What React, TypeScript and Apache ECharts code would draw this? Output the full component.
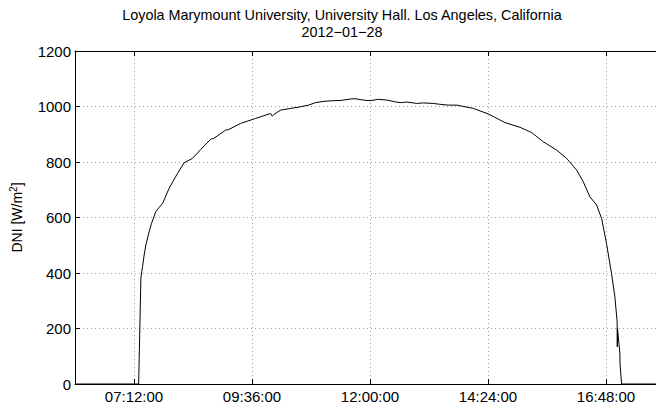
import React, { useEffect, useRef } from "react";
import * as echarts from "echarts";

const titleLines = [
  "Loyola Marymount University, University Hall. Los Angeles, California",
  "2012\u221201\u221228",
];
const yAxisName = "DNI [W/m{sup|2}]";
const xTickTimes = ["07:12:00", "09:36:00", "12:00:00", "14:24:00", "16:48:00"];
const yTicks = [0, 200, 400, 600, 800, 1000, 1200];
const xRange = ["06:00:00", "18:00:00"];

const times = [
  "06:00:00", "07:17:40", "07:20:24", "07:22:24", "07:24:24", "07:26:30", "07:30:30",
  "07:33:24", "07:38:36", "07:42:42", "07:46:48", "07:54:48", "08:05:06", "08:13:06",
  "08:23:18", "08:33:24", "08:45:36", "08:49:18", "09:03:54", "09:07:30", "09:22:06",
  "09:40:24", "09:58:42", "10:00:42", "10:03:00", "10:10:54", "10:23:00", "10:35:12",
  "10:45:00", "10:53:30", "11:05:00", "11:15:24", "11:25:00", "11:36:06", "11:42:00",
  "11:48:00", "11:55:00", "12:00:30", "12:10:00", "12:21:12", "12:30:00", "12:37:00",
  "12:45:00", "12:57:42", "13:05:00", "13:17:12", "13:25:00", "13:35:24", "13:46:00",
  "14:06:12", "14:24:30", "14:44:48", "15:03:06", "15:17:18", "15:31:30", "15:47:48",
  "16:00:00", "16:12:12", "16:20:12", "16:28:18", "16:36:30", "16:42:36", "16:48:36",
  "16:54:42", "16:58:48", "17:01:36", "17:01:48", "17:02:00", "17:04:54", "17:05:06",
  "17:07:00", "18:00:00",
];
const dni = [
  0, 0, 381, 423, 465, 501, 549,
  579, 621, 637, 650, 705, 759, 797,
  813, 845, 882, 885, 915, 917, 939,
  957, 975, 965, 972, 987, 993, 999,
  1005, 1014, 1019, 1021, 1022, 1027, 1028,
  1025, 1022, 1021, 1026, 1023, 1017, 1014,
  1016, 1011, 1013, 1011, 1008, 1005, 1005,
  993, 973, 942, 925, 906, 873, 843,
  813, 771, 729, 675, 645, 597, 507,
  399, 315, 224, 134, 200, 112, 76,
  0, 0,
];

const toMin = (t: string) => {
  const [h, m, s] = t.split(":").map(Number);
  return h * 60 + m + s / 60;
};
const fmt = (v: number) => {
  const tot = Math.round(v * 60);
  const h = Math.floor(tot / 3600);
  const m = Math.floor((tot % 3600) / 60);
  const s = tot % 60;
  const p = (n: number) => String(n).padStart(2, "0");
  return `${p(h)}:${p(m)}:${p(s)}`;
};

const FONT = "'Liberation Sans', Arial, Helvetica, sans-serif";

export default function App() {
  const ref = useRef<HTMLDivElement>(null);
  useEffect(() => {
    if (!ref.current) return;
    const chart = echarts.init(ref.current, undefined, { renderer: "svg" });
    const xTicks = xTickTimes.map(toMin);
    const xMin = toMin(xRange[0]);
    const xMax = toMin(xRange[1]);
    const gridColor = "#a0a0a0";
    chart.setOption({
      animation: false,
      backgroundColor: "#ffffff",
      grid: { left: 74, right: 15, top: 51, bottom: 25 },
      graphic: titleLines.map((t, i) => ({
        type: "text",
        x: 342,
        y: 15 + i * 17,
        style: {
          text: t,
          fill: "#000",
          font: `14.4px ${FONT}`,
          textAlign: "center",
          textVerticalAlign: "middle",
        },
      })),
      xAxis: [
        {
          type: "value",
          position: "bottom",
          min: xMin,
          max: xMax,
          axisLine: { lineStyle: { color: "#000", width: 1 } },
          axisTick: { inside: true, length: 5, lineStyle: { color: "#000" }, customValues: xTicks },
          axisLabel: {
            customValues: xTicks,
            formatter: (v: number) => fmt(v),
            color: "#000",
            fontSize: 15,
            fontFamily: FONT,
            margin: 5,
          },
          splitLine: { show: true, lineStyle: { color: gridColor, type: [1, 3], width: 1 } },
        },
        {
          type: "value",
          position: "top",
          min: xMin,
          max: xMax,
          axisLine: { lineStyle: { color: "#000", width: 1 } },
          axisTick: { inside: true, length: 5, lineStyle: { color: "#000" }, customValues: xTicks },
          axisLabel: { show: false },
          splitLine: { show: false },
        },
      ],
      yAxis: {
        type: "value",
        min: yTicks[0],
        max: yTicks[yTicks.length - 1],
        interval: 200,
        axisLine: { show: true, lineStyle: { color: "#000", width: 1 } },
        axisTick: { show: true, inside: true, length: 5, lineStyle: { color: "#000" } },
        axisLabel: { color: "#000", fontSize: 15, fontFamily: FONT, margin: 4, formatter: (v: number) => String(v) },
        splitLine: { show: true, lineStyle: { color: gridColor, type: [1, 3], width: 1 } },
        name: yAxisName,
        nameLocation: "middle",
        nameGap: 50,
        nameTextStyle: {
          color: "#000",
          fontSize: 14,
          fontFamily: FONT,
          rich: {
            sup: { fontSize: 10, fontFamily: FONT, color: "#000", verticalAlign: "bottom", padding: [0, 0, 7, 0] },
          },
        },
      },
      series: [
        {
          type: "line",
          xAxisIndex: 0,
          showSymbol: false,
          symbol: "none",
          lineStyle: { color: "#000", width: 1 },
          itemStyle: { color: "#000" },
          data: times.map((t, i) => [toMin(t), dni[i]]),
        },
      ],
    });
    return () => chart.dispose();
  }, []);
  return (
    <div style={{ position: "fixed", left: 0, top: 0, width: 656, height: 409, overflow: "hidden", background: "#fff" }}>
      <div ref={ref} style={{ width: 680, height: 409 }} />
    </div>
  );
}
